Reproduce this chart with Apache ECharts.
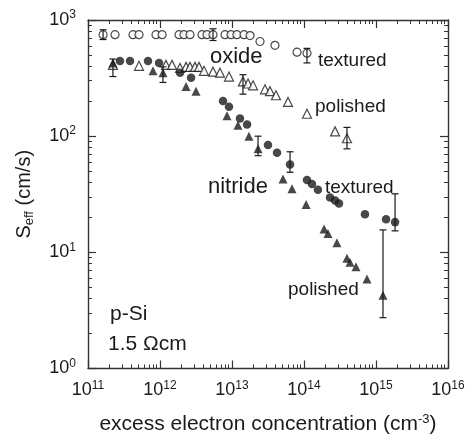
<!DOCTYPE html>
<html>
<head>
<meta charset="utf-8">
<script src="https://cdn.jsdelivr.net/npm/echarts@6/dist/echarts.min.js"></script>
<style>html,body{margin:0;padding:0;background:#fff}#c{width:470px;height:440px}</style>
</head>
<body>
<div id="c"></div>
<script>
// ---- data ----
const oxTexX = [1.62e11, 2.37e11, 4.22e11, 5.11e11, 8.8e11, 1.07e12, 1.84e12, 2.15e12, 2.61e12, 3.83e12, 4.5e12, 5.45e12, 8.0e12, 9.7e12, 1.17e13, 1.47e13, 1.78e13, 2.45e13, 3.95e13, 8.0e13, 1.1e14];
const oxTexY = [748, 748, 748, 748, 748, 748, 748, 748, 748, 748, 748, 748, 748, 748, 748, 748, 734, 653, 605, 528, 518];

const oxPolX = [2.22e11, 5.11e11, 1.21e12, 1.47e12, 1.9e12, 2.3e12, 2.61e12, 3.06e12, 3.48e12, 4.08e12, 5.45e12, 6.81e12, 9.08e12, 1.42e13, 1.67e13, 1.96e13, 2.87e13, 3.37e13, 4.08e13, 6.0e13, 1.1e14, 2.7e14, 3.95e14];
const oxPolY = [411, 403, 411, 411, 387, 395, 395, 395, 395, 365, 359, 352, 326, 296, 284, 274, 253, 244, 225, 197, 156, 110, 96];

const niTexX = [2.78e11, 3.83e11, 6.81e11, 9.7e11, 1.9e12, 2.7e12, 7.5e12, 9.08e12, 1.29e13, 1.62e13, 3.16e13, 4.22e13, 6.4e13, 1.1e14, 1.29e14, 1.56e14, 2.3e14, 2.7e14, 3.06e14, 7.03e14, 1.38e15, 1.84e15];
const niTexY = [444, 444, 444, 427, 352, 319, 201, 179, 142, 126, 84, 72, 57, 41.9, 38.7, 34.5, 29.6, 27.9, 26.3, 21.3, 19.3, 18.2];

const niPolX = [2.22e11, 8.0e11, 1.1e12, 2.3e12, 3.16e12, 8.53e12, 1.21e13, 1.72e13, 2.3e13, 5.11e13, 6.81e13, 1.07e14, 1.9e14, 2.15e14, 2.87e14, 3.95e14, 4.35e14, 5.27e14, 7.5e14, 1.25e15];
const niPolY = [427, 365, 352, 268, 244, 150, 124, 100, 77.8, 42.7, 35.2, 25.8, 15.9, 14.5, 12.1, 8.9, 8.2, 7.5, 5.9, 4.27];

const errX  = [1.62e11, 5.45e12, 1.1e14, 2.22e11, 1.1e12, 1.42e13, 3.95e14, 2.3e13, 6.4e13, 1.84e15, 1.25e15];
const errLo = [679, 666, 427, 326, 290, 230, 77.8, 67.9, 48.9, 15.3, 2.74];
const errHi = [824, 840, 570, 461, 395, 338, 119, 100, 73.4, 31.9, 15.6];

const xMin = 1e11, xMax = 1e16;
const yMin = 1e0, yMax = 1e3;
const xTitle = '{t|excess electron concentration (cm}{s|-3}{t|)}';
const yTitle = '{t|S}{u|eff}{t| (cm/s)}';
const annotations = [
  {text: 'oxide', x: 210, y: 57, size: 22},
  {text: 'textured', x: 318, y: 61, size: 19},
  {text: 'polished', x: 315, y: 107, size: 19},
  {text: 'nitride', x: 208, y: 187, size: 22},
  {text: 'textured', x: 325, y: 188, size: 19},
  {text: 'polished', x: 288, y: 290, size: 19},
  {text: 'p-Si', x: 110, y: 314, size: 21},
  {text: '1.5 \u03A9cm', x: 108, y: 344, size: 21}
];

// ---- helpers ----
const FONT = 'Liberation Sans, Arial, sans-serif';
const INK = '#1a1a1a';
const zip = (a, b) => a.map((v, i) => [v, b[i]]);
function minorLog(lo, hi) { const out = []; for (let n = lo; n < hi; n++) for (let k = 2; k <= 9; k++) out.push(n + Math.log10(k)); return out; }
const supLabel = v => '{n|10}{e|' + Math.round(Math.log10(v)) + '}';
const labelRich = {
  n: {fontSize: 18, fontFamily: FONT, color: INK, lineHeight: 22},
  e: {fontSize: 12, fontFamily: FONT, color: INK, verticalAlign: 'top', lineHeight: 13}
};
const lineStyle = {color: '#333', width: 1.4};

function majorAxis(pos, min, max, showLabel, extra) {
  return Object.assign({
    type: 'log', logBase: 10, min: min, max: max, position: pos,
    axisLine: {show: true, onZero: false, lineStyle: lineStyle},
    axisTick: {show: true, inside: true, length: 8, lineStyle: {color: '#333', width: 1.2}},
    axisLabel: showLabel ? {show: true, formatter: supLabel, rich: labelRich, margin: pos === 'left' ? 12 : 11, showMinLabel: true, showMaxLabel: true, hideOverlap: false} : {show: false},
    splitLine: {show: false}, minorTick: {show: false}
  }, extra || {});
}
function minorAxis(pos, lo, hi) {
  return {
    type: 'value', min: lo, max: hi, position: pos,
    axisLine: {show: false, onZero: false},
    axisTick: {show: true, inside: true, length: 4, customValues: minorLog(lo, hi), lineStyle: {color: '#333', width: 1}},
    axisLabel: {show: false}, splitLine: {show: false}
  };
}

const chart = echarts.init(document.getElementById('c'), null, {renderer: 'canvas'});
const open = {color: '#fff', borderColor: INK, borderWidth: 1.2};
const filled = {color: INK};

chart.setOption({
  animation: false,
  backgroundColor: '#fff',
  grid: {left: 88, right: 22, top: 20, bottom: 64, containLabel: false},
  xAxis: [
    majorAxis('bottom', xMin, xMax, true, {
      name: xTitle, nameLocation: 'middle', nameGap: 44,
      nameTextStyle: {rich: {
        t: {fontSize: 21, fontFamily: FONT, color: INK, lineHeight: 24},
        s: {fontSize: 13, fontFamily: FONT, color: INK, verticalAlign: 'top', lineHeight: 14}
      }}
    }),
    minorAxis('bottom', 11, 16),
    majorAxis('top', xMin, xMax, false),
    minorAxis('top', 11, 16)
  ],
  yAxis: [
    majorAxis('left', yMin, yMax, true, {
      name: yTitle, nameLocation: 'middle', nameGap: 52, nameRotate: 90,
      nameTextStyle: {rich: {
        t: {fontSize: 20, fontFamily: FONT, color: INK, lineHeight: 24},
        u: {fontSize: 13, fontFamily: FONT, color: INK, verticalAlign: 'bottom', lineHeight: 15}
      }}
    }),
    minorAxis('left', 0, 3),
    majorAxis('right', yMin, yMax, false),
    minorAxis('right', 0, 3)
  ],
  series: [
    {type: 'scatter', name: 'oxide textured', data: zip(oxTexX, oxTexY), symbol: 'circle', symbolSize: 8, itemStyle: open, z: 3},
    {type: 'scatter', name: 'oxide polished', data: zip(oxPolX, oxPolY), symbol: 'triangle', symbolSize: 9, itemStyle: open, z: 3},
    {type: 'scatter', name: 'nitride textured', data: zip(niTexX, niTexY), symbol: 'circle', symbolSize: 8.5, itemStyle: filled, z: 3},
    {type: 'scatter', name: 'nitride polished', data: zip(niPolX, niPolY), symbol: 'triangle', symbolSize: 9, itemStyle: filled, z: 3},
    {
      type: 'custom', name: 'error bars', z: 4,
      data: errX.map((x, i) => [x, errLo[i], errHi[i]]),
      encode: {x: 0, y: [1, 2]},
      renderItem: function (params, api) {
        const x = api.value(0);
        const p1 = api.coord([x, api.value(2)]);
        const p2 = api.coord([x, api.value(1)]);
        const w = 3.5, st = {stroke: INK, lineWidth: 1.2};
        return {type: 'group', children: [
          {type: 'line', shape: {x1: p1[0], y1: p1[1], x2: p2[0], y2: p2[1]}, style: st},
          {type: 'line', shape: {x1: p1[0] - w, y1: p1[1], x2: p1[0] + w, y2: p1[1]}, style: st},
          {type: 'line', shape: {x1: p2[0] - w, y1: p2[1], x2: p2[0] + w, y2: p2[1]}, style: st}
        ]};
      }
    }
  ],
  graphic: annotations.map(a => ({
    type: 'text', x: a.x, y: a.y, z: 10,
    style: {text: a.text, fill: INK, font: a.size + 'px ' + FONT, textAlign: 'left', textVerticalAlign: 'middle'}
  }))
});
</script>
</body>
</html>
